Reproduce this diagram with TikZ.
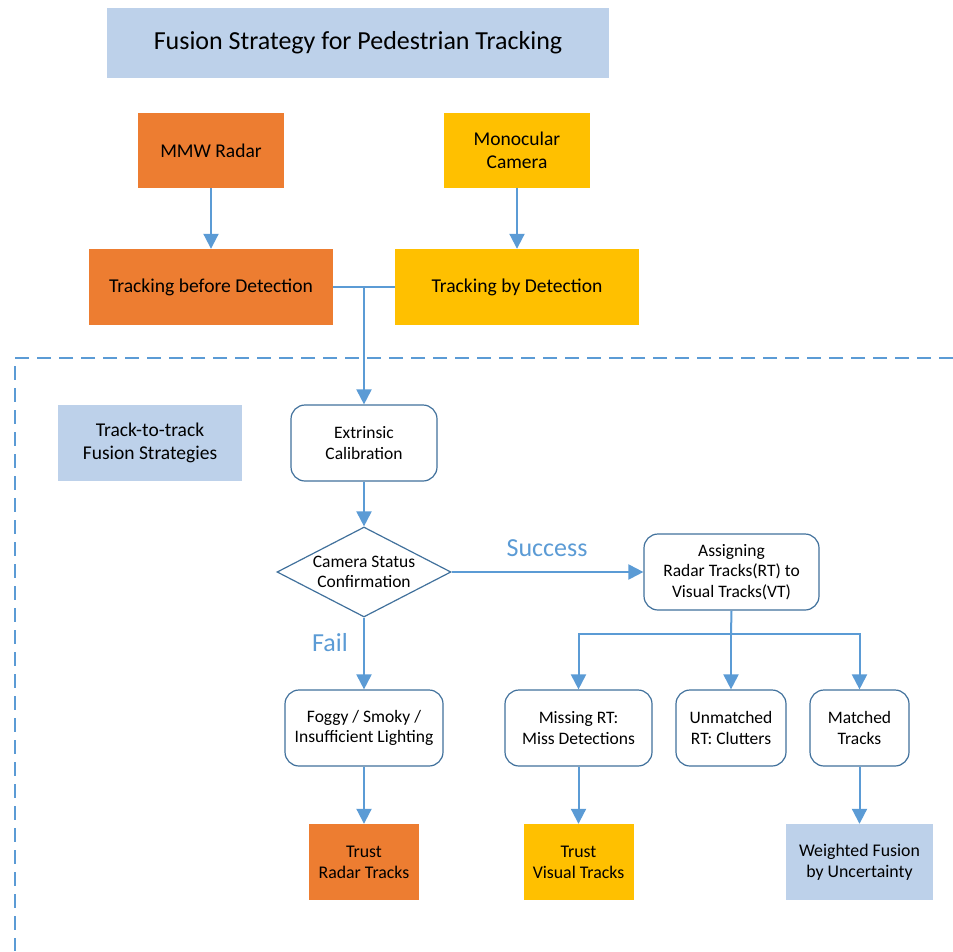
\documentclass[tikz,border=0pt]{standalone}
\usepackage{fontspec}
\setmainfont{Carlito}
\usetikzlibrary{arrows.meta,shapes.geometric}
\definecolor{orangeF}{HTML}{ED7D31}
\definecolor{goldF}{HTML}{FFC000}
\definecolor{lblue}{HTML}{BDD1EA}
\definecolor{lineC}{HTML}{5B9BD5}
\definecolor{borderC}{HTML}{41719C}
\tikzset{
  fillbox/.style={draw=none,inner sep=0pt,align=center,font=\fontsize{19.5}{22.5}\selectfont},
  rbox/.style={draw=borderC,line width=1.2pt,rounded corners=14pt,fill=white,inner sep=0pt,align=center,font=\fontsize{17.5}{20.5}\selectfont},
  conn/.style={draw=lineC,line width=2pt,-{Triangle[width=15pt,length=15pt]}},
  plainconn/.style={draw=lineC,line width=2pt},
  lbl/.style={text=lineC,font=\fontsize{26}{28}\selectfont}
}
\begin{document}
\begin{tikzpicture}[x=1pt,y=-1pt]
\useasboundingbox (0,0) rectangle (953,951);
% title
\node[fillbox,fill=lblue,minimum width=502pt,minimum height=70pt,font=\fontsize{26}{28}\selectfont] (title) at (358,43) {Fusion Strategy for Pedestrian Tracking};
% sensors
\node[fillbox,fill=orangeF,minimum width=146pt,minimum height=75pt] (radar) at (211,150.5) {MMW Radar};
\node[fillbox,fill=goldF,minimum width=146pt,minimum height=75pt] (cam) at (517,150.5) {Monocular\\Camera};
\node[fillbox,fill=orangeF,minimum width=244pt,minimum height=76pt,font=\fontsize{19.6}{22}\selectfont] (tbd) at (211,287) {Tracking before Detection};
\node[fillbox,fill=goldF,minimum width=244pt,minimum height=76pt,font=\fontsize{19.6}{22}\selectfont] (tby) at (517,287) {Tracking by Detection};
% dashed frame
\coordinate (fr1) at (953,358);
\coordinate (fr2) at (15,358);
\coordinate (fr3) at (15,951);
\draw[lineC,line width=1.3pt,dash pattern=on 14pt off 8pt] (fr1) -- (fr2) -- (fr3);
% fusion strategies
\node[fillbox,fill=lblue,minimum width=184pt,minimum height=76pt,font=\fontsize{19.5}{23}\selectfont] (t2t) at (150,443) {Track-to-track\\Fusion Strategies};
\node[rbox,minimum width=146pt,minimum height=76pt] (ext) at (364,443) {Extrinsic\\Calibration};
\node[diamond,draw=borderC,line width=1.2pt,fill=white,inner sep=0pt,aspect=1.93,minimum width=174pt,minimum height=90pt,align=center,font=\fontsize{17.5}{20.5}\selectfont] (cam2) at (364,572) {Camera Status\\Confirmation};
\node[rbox,minimum width=175pt,minimum height=76pt] (assign) at (731.5,572) {Assigning\\Radar Tracks(RT) to\\Visual Tracks(VT)};
\node[rbox,minimum width=158pt,minimum height=76pt] (fog) at (364,728) {Foggy / Smoky /\\Insufficient Lighting};
\node[rbox,minimum width=147pt,minimum height=76pt] (miss) at (578.5,728) {Missing RT:\\Miss Detections};
\node[rbox,minimum width=110pt,minimum height=76pt] (unm) at (731,728) {Unmatched\\RT: Clutters};
\node[rbox,minimum width=99pt,minimum height=76pt] (mat) at (859.5,728) {Matched\\Tracks};
\node[fillbox,fill=orangeF,minimum width=110pt,minimum height=76pt,font=\fontsize{17.8}{21}\selectfont] (trr) at (364,862) {Trust\\Radar Tracks};
\node[fillbox,fill=goldF,minimum width=110pt,minimum height=76pt,font=\fontsize{17.8}{21}\selectfont] (trv) at (578.5,862) {Trust\\Visual Tracks};
\node[fillbox,fill=lblue,minimum width=147pt,minimum height=76pt,font=\fontsize{17.8}{21}\selectfont] (wf) at (859.5,862) {Weighted Fusion\\by Uncertainty};
% labels
\node[lbl] (succ) at (547,548) {Success};
\node[lbl] (fail) at (330,643) {Fail};
% connectors
\draw[conn] (radar) -- (tbd);
\draw[conn] (cam) -- (tby);
\coordinate (j1) at (364,287);
\draw[plainconn] (tbd.east) -- (tby.west);
\draw[conn] (j1) -- (ext.north);
\draw[conn] (ext) -- (cam2.north);
\draw[conn] (cam2.east) -- (assign.west);
\draw[conn] (cam2.south) -- (fog.north);
\coordinate (j2) at (731,634);
\draw[plainconn] (assign.south) -- (j2);
\draw[conn] (j2) -| (miss.north);
\draw[conn] (j2) -- (unm.north);
\draw[conn] (j2) -| (mat.north);
\draw[conn] (fog) -- (trr);
\draw[conn] (miss) -- (trv);
\draw[conn] (mat) -- (wf);
\end{tikzpicture}
\end{document}
